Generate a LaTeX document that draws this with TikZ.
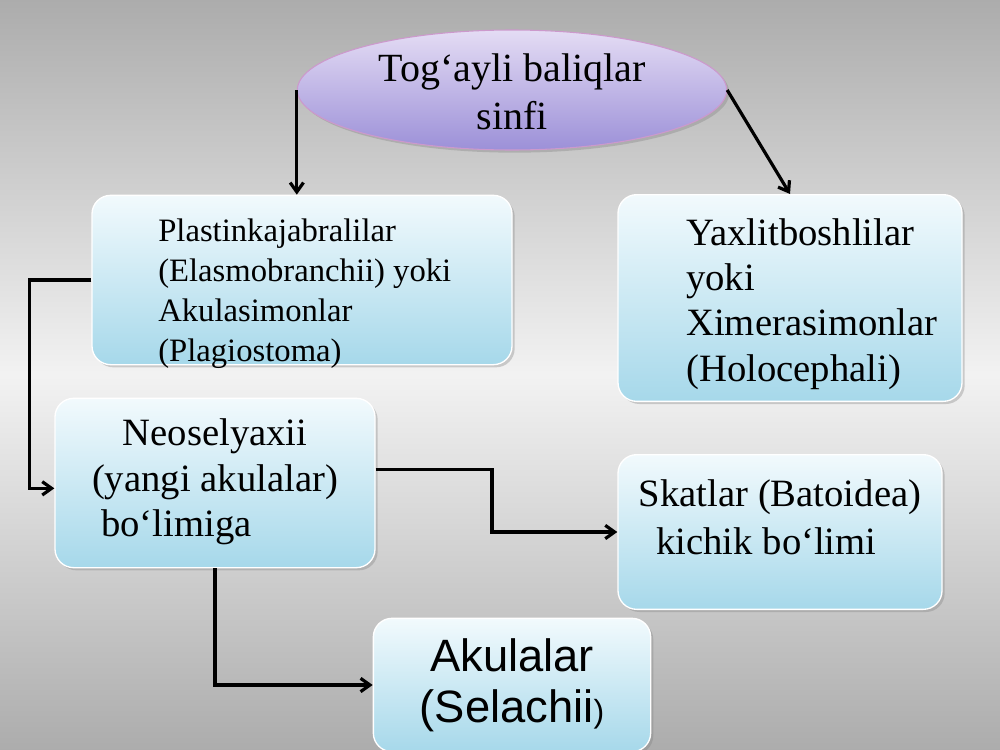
\documentclass[tikz,border=0pt]{standalone}
\usepackage{fontspec}
\setmainfont{Liberation Serif}
\newfontfamily\sansf{Liberation Sans}
\usetikzlibrary{shapes.geometric,shadows,arrows.meta}
\definecolor{boxtop}{HTML}{F2FAFD}
\definecolor{boxbot}{HTML}{A6D8EA}
\definecolor{elltop}{HTML}{E4DCF4}
\definecolor{ellbot}{HTML}{9C90D8}
\begin{document}
\begin{tikzpicture}[x=0.75pt,y=-0.75pt,
  box/.style={draw=white,line width=1pt,rounded corners=14pt,top color=boxtop,bottom color=boxbot,
    drop shadow={shadow xshift=2pt,shadow yshift=-2pt,opacity=0.35},inner sep=0pt},
  conn/.style={line width=2.4pt,-{Straight Barb[length=7pt,width=10pt]}}]
\useasboundingbox (0,0) rectangle (1000,750);
\shade[top color=gray!65,bottom color=gray!65,middle color=gray!10] (0,0) rectangle (1000,750);
\node[ellipse,draw=violet!40,line width=0.8pt,top color=elltop,bottom color=ellbot,minimum width=322pt,minimum height=90pt,
  drop shadow={shadow xshift=2pt,shadow yshift=-2pt,opacity=0.35}] (e) at (512,90) {};
\node[align=center,font=\fontsize{30}{36}\selectfont] at (512,92) {Tog‘ayli baliqlar\\sinfi};
\node[box,minimum width=315pt,minimum height=127pt] (b1) at (302,280) {};
\node[align=left,anchor=north west,font=\fontsize{24.5}{30}\selectfont,inner sep=0pt] at (158,219) {Plastinkajabralilar\\(Elasmobranchii) yoki\\Akulasimonlar\\(Plagiostoma)};
\node[box,minimum width=258pt,minimum height=155pt] (b2) at (790,298) {};
\node[align=left,anchor=north west,font=\fontsize{29}{34}\selectfont,inner sep=0pt] at (686,218) {Yaxlitboshlilar\\yoki\\Ximerasimonlar\\(Holocephali)};
\node[box,minimum width=240pt,minimum height=127pt] (b3) at (215,483) {};
\node[align=center,font=\fontsize{29}{34}\selectfont] at (215,482) {Neoselyaxii\\(yangi akulalar)\\bo‘limiga\hspace*{2em}};
\node[box,minimum width=243pt,minimum height=116pt] (b4) at (780,532) {};
\node[align=center,font=\fontsize{29}{36}\selectfont] at (780,517) {Skatlar (Batoidea)\\kichik bo‘limi\hspace*{0.7em}};
\node[box,minimum width=208pt,minimum height=100pt,align=center,font=\sansf\fontsize{34}{38}\selectfont] (b5) at (512,685) {Akulalar\\(Selachii{\fontsize{24}{24}\selectfont)}};
\draw[conn] (e.west) -- (e.west |- b1.north);
\draw[conn] (e.east) -- (b2.north);
\draw[conn] (b1.west) -- ++(-62,0) |- ([yshift=-4pt]b3.west);
\draw[conn] ([yshift=10pt]b3.east) -| (492,532) -- (b4.west);
\draw[conn] (b3.south) |- (b5.west);
\end{tikzpicture}
\end{document}
